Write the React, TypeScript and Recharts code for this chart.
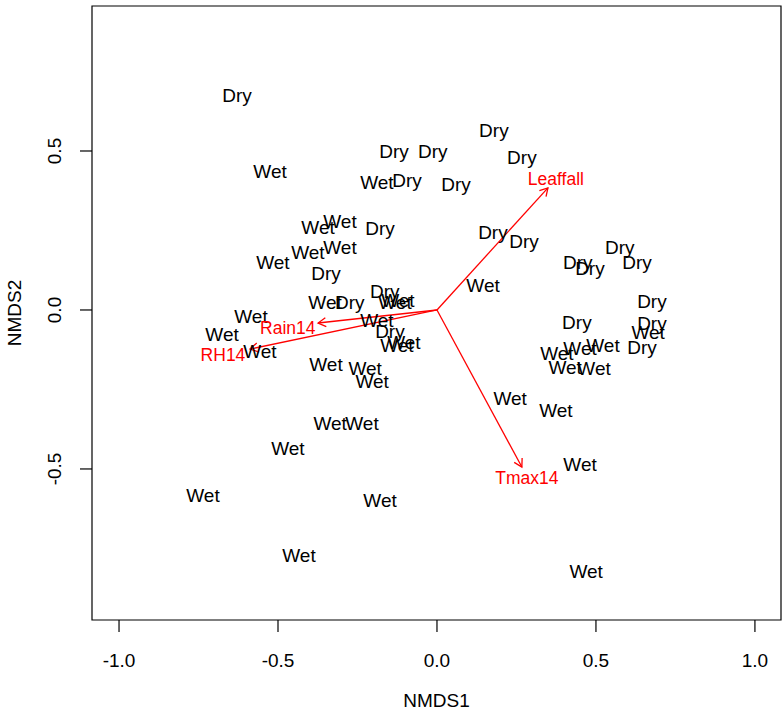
import React from "react";
import {
  ScatterChart,
  Scatter,
  XAxis,
  YAxis,
  ReferenceLine,
  ReferenceArea,
} from "recharts";

const FONT = '"Liberation Sans", Arial, Helvetica, sans-serif';

// NMDS site scores
const dryPoints: [number, number][] = [
  [-0.629, 0.676], [0.179, 0.566], [-0.135, 0.5], [-0.013, 0.5], [0.267, 0.481],
  [-0.094, 0.409], [0.06, 0.396], [-0.179, 0.258], [0.176, 0.245], [0.274, 0.217],
  [-0.349, 0.116], [-0.164, 0.06], [-0.274, 0.025], [-0.148, -0.066],
  [0.575, 0.198], [0.443, 0.151], [0.481, 0.132], [0.629, 0.151], [0.676, 0.028],
  [0.44, -0.038], [0.676, -0.041], [0.645, -0.116],
];

const wetPoints: [number, number][] = [
  [-0.525, 0.437], [-0.189, 0.403], [-0.374, 0.261], [-0.305, 0.28], [-0.406, 0.182],
  [-0.305, 0.198], [-0.516, 0.151], [0.145, 0.079], [-0.352, 0.025], [-0.132, 0.025],
  [-0.123, 0.031], [-0.189, -0.031], [-0.126, -0.11], [-0.104, -0.101], [-0.585, -0.019],
  [-0.676, -0.075], [-0.557, -0.129], [-0.349, -0.17], [-0.226, -0.182], [-0.204, -0.223],
  [-0.336, -0.355], [-0.236, -0.355], [-0.469, -0.434], [-0.736, -0.582], [-0.179, -0.597],
  [-0.434, -0.77], [0.469, -0.821], [0.23, -0.277], [0.374, -0.314], [0.45, -0.484],
  [0.664, -0.069], [0.522, -0.11], [0.377, -0.135], [0.45, -0.119], [0.403, -0.179],
  [0.494, -0.182],
];

// fitted environmental vectors
const vectorNames = ["Leaffall", "Tmax14", "Rain14", "RH14"];
const vectorTips: [number, number][] = [
  [0.349, 0.384], [0.267, -0.494], [-0.374, -0.041], [-0.588, -0.123],
];
const vectorLabelPos: [number, number][] = [
  [0.374, 0.412], [0.283, -0.528], [-0.469, -0.057], [-0.673, -0.142],
];

const xTicks = [-1, -0.5, 0, 0.5, 1];
const yTicks = [-0.5, 0, 0.5];
const xDomain: [number, number] = [-1.085, 1.082];
const yDomain: [number, number] = [-0.975, 0.956];

const siteData = [
  ...dryPoints.map(([x, y]) => ({ x, y, label: "Dry" })),
  ...wetPoints.map(([x, y]) => ({ x, y, label: "Wet" })),
];
const vectorLabelData = vectorNames.map((label, i) => ({
  x: vectorLabelPos[i][0],
  y: vectorLabelPos[i][1],
  label,
}));

const SiteLabel = (props: any) => (
  <text
    x={props.cx}
    y={props.cy}
    dy={6.8}
    textAnchor="middle"
    fontSize={19}
    fontFamily={FONT}
    fill="#000"
  >
    {props.payload.label}
  </text>
);

const VectorLabel = (props: any) => (
  <text
    x={props.cx}
    y={props.cy}
    dy={6.2}
    textAnchor="middle"
    fontSize={17.5}
    fontFamily={FONT}
    fill="#ff0000"
  >
    {props.payload.label}
  </text>
);

const Arrow = (props: any) => {
  const { x1, y1, x2, y2 } = props;
  const ang = Math.atan2(y2 - y1, x2 - x1);
  const len = 9;
  const spread = Math.PI / 6;
  const ax = x2 - len * Math.cos(ang - spread);
  const ay = y2 - len * Math.sin(ang - spread);
  const bx = x2 - len * Math.cos(ang + spread);
  const by = y2 - len * Math.sin(ang + spread);
  return (
    <g stroke="#ff0000" strokeWidth={1.3} fill="none">
      <line x1={x1} y1={y1} x2={x2} y2={y2} />
      <polyline points={`${ax},${ay} ${x2},${y2} ${bx},${by}`} />
    </g>
  );
};

const XTick = (props: any) => (
  <text x={props.x} y={props.y} dy={35} textAnchor="middle" fontSize={19} fontFamily={FONT} fill="#000">
    {props.payload.value.toFixed(1)}
  </text>
);

const YTick = (props: any) => {
  const tx = props.x - 19;
  return (
    <text
      x={tx}
      y={props.y}
      textAnchor="middle"
      fontSize={19}
      fontFamily={FONT}
      fill="#000"
      transform={`rotate(-90, ${tx}, ${props.y})`}
    >
      {props.payload.value.toFixed(1)}
    </text>
  );
};

export default function App() {
  return (
    <div style={{ position: "absolute", left: 0, top: 0, background: "#fff" }}>
      <ScatterChart width={783} height={711} margin={{ top: 6, right: 2, bottom: 0, left: 0 }}>
        <XAxis
          type="number"
          dataKey="x"
          domain={xDomain}
          allowDataOverflow
          ticks={xTicks}
          tick={<XTick />}
          tickSize={12}
          tickMargin={0}
          axisLine={false}
          tickLine={{ stroke: "#000", strokeWidth: 1.2 }}
          height={91}
          label={() => (
            <text x={436.5} y={707} textAnchor="middle" fontSize={19} fontFamily={FONT} fill="#000">
              NMDS1
            </text>
          )}
        />
        <YAxis
          type="number"
          dataKey="y"
          domain={yDomain}
          allowDataOverflow
          ticks={yTicks}
          tick={<YTick />}
          tickSize={12}
          tickMargin={0}
          axisLine={false}
          tickLine={{ stroke: "#000", strokeWidth: 1.2 }}
          width={92}
          label={() => (
            <text
              x={21}
              y={313}
              textAnchor="middle"
              fontSize={19}
              fontFamily={FONT}
              fill="#000"
              transform="rotate(-90, 21, 313)"
            >
              NMDS2
            </text>
          )}
        />
        <ReferenceArea
          x1={xDomain[0]}
          x2={xDomain[1]}
          y1={yDomain[0]}
          y2={yDomain[1]}
          fill="none"
          fillOpacity={0}
          stroke="#000"
          strokeWidth={1.2}
        />
        {vectorTips.map(([vx, vy], i) => (
          <ReferenceLine
            key={vectorNames[i]}
            segment={[{ x: 0, y: 0 }, { x: vx, y: vy }]}
            shape={<Arrow />}
          />
        ))}
        <Scatter data={siteData} shape={<SiteLabel />} isAnimationActive={false} />
        <Scatter data={vectorLabelData} shape={<VectorLabel />} isAnimationActive={false} />
      </ScatterChart>
    </div>
  );
}
